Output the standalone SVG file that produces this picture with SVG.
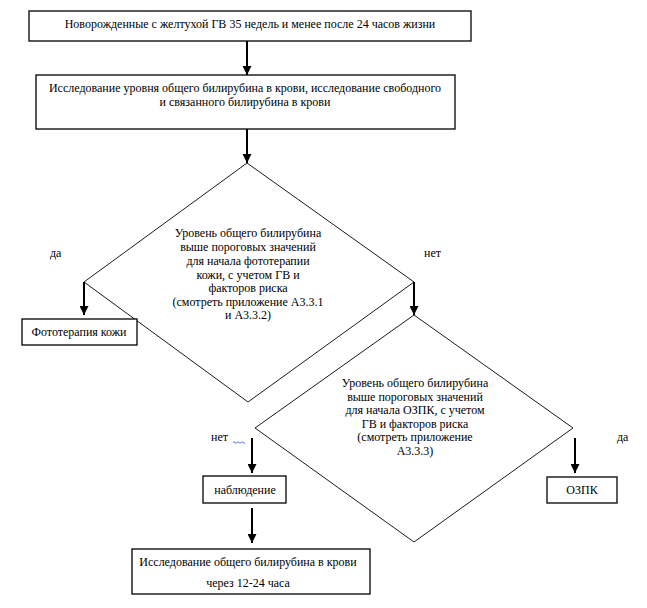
<svg xmlns="http://www.w3.org/2000/svg" width="647" height="608" viewBox="0 0 647 608">
<defs>
<marker id="ah" viewBox="0 0 10 10" refX="10" refY="5" markerWidth="4.5" markerHeight="4.5" orient="auto" markerUnits="strokeWidth">
<path d="M0,0 L10,5 L0,10 z" fill="#000"/>
</marker>
<style>
.box{fill:#fff;stroke:#000;stroke-width:1.3}
.dia{fill:none;stroke:#000;stroke-width:0.9}
.t{font-family:"Liberation Serif","Times New Roman",serif;font-size:12px;fill:#000;text-anchor:middle}
.lab{font-family:"Liberation Serif","Times New Roman",serif;font-size:12px;fill:#000}
.c{stroke:#000;stroke-width:2;fill:none;marker-end:url(#ah)}
</style>
</defs>
<rect width="647" height="608" fill="#fff"/>
<g id="start">
<rect class="box" x="29" y="11" width="442" height="30"/>
<text class="t" x="250" y="28">Новорожденные с желтухой ГВ 35 недель и менее после 24 часов жизни</text>
</g>
<g id="test1">
<rect class="box" x="36" y="75" width="419" height="54"/>
<text class="t" x="245" y="92">Исследование уровня общего билирубина в крови, исследование свободного</text>
<text class="t" x="245" y="106">и связанного билирубина в крови</text>
</g>
<g id="dec1">
<polygon class="dia" points="247,163 414,282 248,402 84,282"/>
<text class="t" x="248" y="237">Уровень общего билирубина</text>
<text class="t" x="248" y="251">выше пороговых значений</text>
<text class="t" x="248" y="265">для начала фототерапии</text>
<text class="t" x="248" y="279">кожи, с учетом ГВ и</text>
<text class="t" x="248" y="292">факторов риска</text>
<text class="t" x="248" y="306">(смотреть приложение А3.3.1</text>
<text class="t" x="248" y="319">и А3.3.2)</text>
</g>
<g id="photo">
<rect class="box" x="22" y="319" width="115" height="26"/>
<text class="t" x="79" y="336">Фототерапия кожи</text>
</g>
<g id="dec2">
<polygon class="dia" points="414,315 573,428 414,542 255,428"/>
<text class="t" x="415" y="387">Уровень общего билирубина</text>
<text class="t" x="415" y="401">выше пороговых значений</text>
<text class="t" x="415" y="414">для начала ОЗПК, с учетом</text>
<text class="t" x="415" y="428">ГВ и факторов риска</text>
<text class="t" x="415" y="441">(смотреть приложение</text>
<text class="t" x="415" y="455">А3.3.3)</text>
</g>
<g id="observe">
<rect class="box" x="203" y="476" width="83" height="27"/>
<text class="t" x="245" y="494">наблюдение</text>
</g>
<g id="ozpk">
<rect class="box" x="547" y="477" width="70" height="26"/>
<text class="t" x="582" y="494">ОЗПК</text>
</g>
<g id="retest">
<rect class="box" x="132" y="549" width="238" height="45"/>
<text class="t" x="248" y="566">Исследование общего билирубина в крови</text>
<text class="t" x="248" y="587">через 12-24 часа</text>
</g>
<g id="labels">
<text class="lab" x="50" y="257">да</text>
<text class="lab" x="424" y="257">нет</text>
<text class="lab" x="211" y="441">нет</text>
<path d="M233,442.5 q1,-1.5 2,0 t2,0 t2,0 t2,0 t2,0 t2,0" fill="none" stroke="#3050e0" stroke-width="0.8"/>
<text class="lab" x="617" y="441">да</text>
</g>
<g id="connectors">
<line class="c" x1="247" y1="41" x2="247" y2="75"/>
<line class="c" x1="247" y1="129" x2="247" y2="163"/>
<line class="c" x1="84" y1="282" x2="84" y2="315"/>
<line class="c" x1="414" y1="282" x2="414" y2="315"/>
<line class="c" x1="252" y1="438" x2="252" y2="473"/>
<line class="c" x1="575" y1="438" x2="575" y2="473"/>
<line class="c" x1="252" y1="508" x2="252" y2="543"/>
</g>
</svg>
